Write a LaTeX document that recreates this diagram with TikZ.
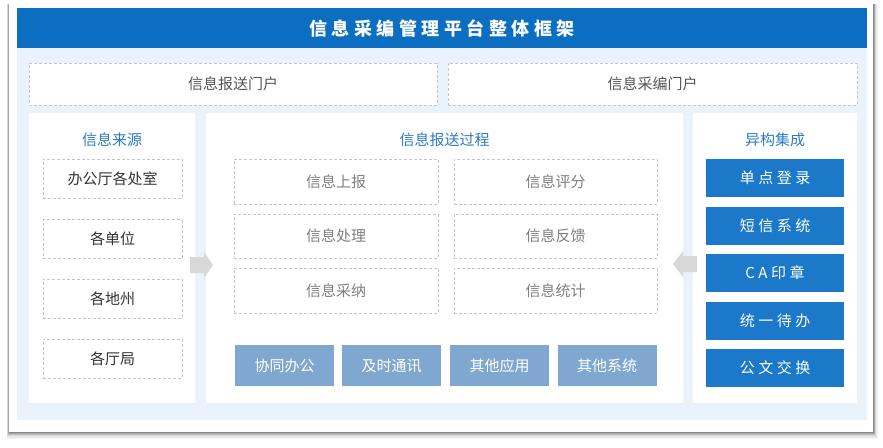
\documentclass[tikz,border=0pt]{standalone}
\usepackage{fontspec}
\setmainfont{Noto Sans CJK SC}
\usetikzlibrary{positioning}
\definecolor{titleblue}{HTML}{0B6EC1}
\definecolor{bgblue}{HTML}{EAF3FB}
\definecolor{dashgray}{HTML}{C6C6C6}
\definecolor{headblue}{HTML}{2F7CC4}
\definecolor{darktext}{HTML}{333333}
\definecolor{porttext}{HTML}{555555}
\definecolor{midtext}{HTML}{808080}
\definecolor{softblue}{HTML}{7FA7CF}
\definecolor{boxblue}{HTML}{1C79C9}
\definecolor{arrowgray}{HTML}{D8D8D8}
\newcommand\titlegap{\hspace{4.5pt}}
\newcommand\boxgap{\hspace{3.5pt}}
\tikzset{
  panel/.style={fill=white, draw=none, inner sep=0pt, anchor=center},
  dashbox/.style={fill=white, draw=dashgray, line width=0.8pt, dash pattern=on 3pt off 2pt, inner sep=0pt, anchor=center, font=\fontsize{15pt}{18pt}\selectfont},
  paneltitle/.style={text=headblue, font=\fontsize{15pt}{18pt}\selectfont, inner sep=0pt},
  softbox/.style={fill=softblue, text=white, inner sep=0pt, anchor=center, minimum width=99pt, minimum height=41pt, font=\fontsize{15pt}{18pt}\selectfont},
  bluebox/.style={fill=boxblue, text=white, inner sep=0pt, anchor=center, minimum width=138pt, minimum height=38pt, font=\fontsize{15pt}{18pt}\selectfont},
}
\begin{document}
\begin{tikzpicture}[x=1pt,y=-1pt]
\useasboundingbox (0,0) rectangle (883,447);
% card shadow
\foreach \d/\o in {6/0.04,5/0.06,4/0.08,3/0.10,2/0.13,1/0.18}{
  \fill[black, opacity=\o] (9-0.4*\d,4) rectangle (873+0.8*\d,432+1.1*\d);
}
\node[fill=white, inner sep=0pt, minimum width=864pt, minimum height=428pt] (card) at (441,218) {};
% background
\node[fill=bgblue, inner sep=0pt, minimum width=850pt, minimum height=372pt] (bg) at (442,234) {};
% title bar
\node[fill=titleblue, text=white, inner sep=0pt, minimum width=850pt, minimum height=40pt,
  font=\fontsize{18pt}{21pt}\selectfont\bfseries] (title) at (442,28)
  {信\titlegap 息\titlegap 采\titlegap 编\titlegap 管\titlegap 理\titlegap 平\titlegap 台\titlegap 整\titlegap 体\titlegap 框\titlegap 架};
% portals
\node[dashbox, text=porttext, minimum width=408pt, minimum height=42pt] (portL) at (233,84) {信息报送门户};
\node[dashbox, text=porttext, minimum width=409pt, minimum height=42pt] (portR) at (652.5,84) {信息采编门户};
% panels
\node[panel, minimum width=166pt, minimum height=290pt] (lp) at (112,258) {};
\node[panel, minimum width=477pt, minimum height=290pt] (mp) at (444.5,258) {};
\node[panel, minimum width=164pt, minimum height=290pt] (rp) at (775,258) {};
\node[paneltitle] (lt) at (112,140) {信息来源};
\node[paneltitle] (mt) at (444.5,140) {信息报送过程};
\node[paneltitle] (rt) at (775,140) {异构集成};
% left boxes
\foreach \n/\y/\t in {s1/178.5/办公厅各处室, s2/239/各单位, s3/298.5/各地州, s4/358.5/各厅局}{
  \node[dashbox, text=darktext, minimum width=139pt, minimum height=39pt] (\n) at (112.5,\y) {\t};
}
% middle boxes
\node[dashbox, text=midtext, minimum width=204pt, minimum height=45pt] (m1) at (336,181.5) {信息上报};
\node[dashbox, text=midtext, minimum width=204pt, minimum height=44pt] (m2) at (336,236) {信息处理};
\node[dashbox, text=midtext, minimum width=204pt, minimum height=45pt] (m3) at (336,290.5) {信息采纳};
\node[dashbox, text=midtext, minimum width=203pt, minimum height=45pt] (m4) at (555.5,181.5) {信息评分};
\node[dashbox, text=midtext, minimum width=203pt, minimum height=44pt] (m5) at (555.5,236) {信息反馈};
\node[dashbox, text=midtext, minimum width=203pt, minimum height=45pt] (m6) at (555.5,290.5) {信息统计};
% bottom soft boxes
\node[softbox] (b1) at (284.5,365.5) {协同办公};
\node[softbox] (b2) at (391.5,365.5) {及时通讯};
\node[softbox] (b3) at (499.5,365.5) {其他应用};
\node[softbox] (b4) at (607,365.5) {其他系统};
% right blue boxes
\node[bluebox] (r1) at (775,178) {单\boxgap 点\boxgap 登\boxgap 录};
\node[bluebox] (r2) at (775,226) {短\boxgap 信\boxgap 系\boxgap 统};
\node[bluebox] (r3) at (775,273) {C\boxgap A\boxgap 印\boxgap 章};
\node[bluebox] (r4) at (775,321) {统\boxgap 一\boxgap 待\boxgap 办};
\node[bluebox] (r5) at (775,368) {公\boxgap 文\boxgap 交\boxgap 换};
% block arrows
\fill[arrowgray] (190,257) -- (204,257) -- (204,252) -- (213,265) -- (204,278) -- (204,273) -- (190,273) -- cycle;
\fill[arrowgray] (697,256) -- (683,256) -- (683,251) -- (673,264) -- (683,277) -- (683,272) -- (697,272) -- cycle;
\end{tikzpicture}
\end{document}
